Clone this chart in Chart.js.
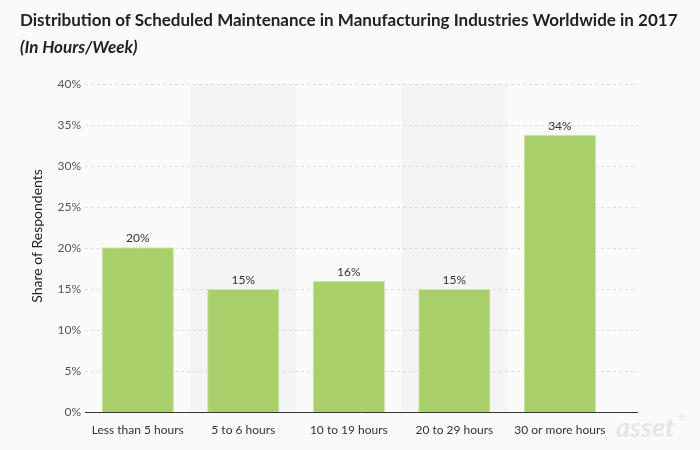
<!DOCTYPE html>
<html>
<head>
<meta charset="utf-8">
<script src="https://cdn.jsdelivr.net/npm/chart.js@4"></script>
<style>
  html, body { margin: 0; padding: 0; background: #fafafa; }
  #wrap { position: relative; width: 700px; height: 450px; background: #fafafa; font-family: Lato, sans-serif; }
  #title { position: absolute; left: 20px; top: 9px; font-size: 17px; font-weight: bold; color: #222; white-space: nowrap; }
  #subtitle { position: absolute; left: 20px; top: 36px; font-size: 17px; font-weight: bold; font-style: italic; color: #222; white-space: nowrap; }
  #logo { position: absolute; left: 616px; top: 410px; font-size: 27px; font-weight: bold; font-style: italic; color: #e6e6e6; }
  #logo sup { font-family: "DejaVu Sans", sans-serif; font-size: 12px; font-style: normal; font-weight: normal; position: relative; top: -6px; margin-left: 3px; }
  canvas { position: absolute; left: 0; top: 0; }
</style>
</head>
<body>
<div id="wrap">
  <canvas id="c" width="700" height="450"></canvas>
  <div id="title">Distribution of Scheduled Maintenance in Manufacturing Industries Worldwide in 2017</div>
  <div id="subtitle">(In Hours/Week)</div>
  <div id="logo">asset<sup>∞</sup></div>
</div>
<script>
const categories = ["Less than 5 hours", "5 to 6 hours", "10 to 19 hours", "20 to 29 hours", "30 or more hours"];
const shareValues = [20.1, 15, 16, 15, 33.8];
const yTicks = [0, 5, 10, 15, 20, 25, 30, 35, 40];
const yAxisTitle = "Share of Respondents";

const bandPlugin = {
  id: 'bands',
  beforeDatasetsDraw(chart) {
    const { ctx, chartArea, scales } = chart;
    ctx.save();
    ctx.fillStyle = '#f4f4f4';
    categories.forEach((_, i) => {
      if (i % 2 === 1) {
        const l = scales.x.getPixelForValue(i - 0.5);
        const r = scales.x.getPixelForValue(i + 0.5);
        ctx.fillRect(l, chartArea.top, r - l, chartArea.bottom - chartArea.top);
      }
    });
    ctx.strokeStyle = '#dcdcdc';
    ctx.lineWidth = 1;
    ctx.setLineDash([3, 3]);
    yTicks.forEach(v => {
      if (v === 0) return;
      const y = Math.round(scales.y.getPixelForValue(v)) + 0.5;
      ctx.beginPath();
      ctx.moveTo(chartArea.left, y);
      ctx.lineTo(chartArea.right, y);
      ctx.stroke();
    });
    ctx.setLineDash([]);
    ctx.strokeStyle = '#333';
    const y0 = Math.round(scales.y.getPixelForValue(0)) + 0.5;
    ctx.beginPath();
    ctx.moveTo(chartArea.left, y0);
    ctx.lineTo(chartArea.right, y0);
    ctx.stroke();
    ctx.save();
    ctx.translate(scales.y.left + 37, (chartArea.top + chartArea.bottom) / 2 - 12);
    ctx.rotate(-Math.PI / 2);
    ctx.font = '14px Lato';
    ctx.fillStyle = '#222';
    ctx.textAlign = 'center';
    ctx.textBaseline = 'middle';
    ctx.fillText(yAxisTitle, 0, 0);
    ctx.restore();
    ctx.restore();
  },
  afterDatasetsDraw(chart) {
    const { ctx } = chart;
    const meta = chart.getDatasetMeta(0);
    ctx.save();
    ctx.font = '12px Lato';
    ctx.fillStyle = '#333';
    ctx.textAlign = 'center';
    ctx.textBaseline = 'bottom';
    meta.data.forEach((bar, i) => {
      ctx.fillText(Math.round(shareValues[i]) + '%', bar.x, bar.y - 3);
    });
    ctx.restore();
  }
};

new Chart(document.getElementById('c'), {
  type: 'bar',
  data: {
    datasets: [{
      data: shareValues.map((v, i) => ({ x: i, y: v })),
      backgroundColor: '#a9cf6b',
      borderColor: '#cfe4ad',
      borderWidth: { left: 1, right: 1, top: 1, bottom: 0 },
      barPercentage: 0.685,
      categoryPercentage: 1
    }]
  },
  options: {
    responsive: false,
    animation: false,
    devicePixelRatio: 1,
    layout: { padding: { top: 84, right: 62, bottom: 0, left: 0 } },
    plugins: { legend: { display: false }, tooltip: { enabled: false } },
    scales: {
      x: {
        type: 'linear',
        bounds: 'data',
        offset: false,
        min: -0.5,
        max: 4.74,
        afterBuildTicks: s => { s.ticks = categories.map((_, i) => ({ value: i })); },
        afterFit: s => { s.height = 38; },
        grid: { display: false, drawTicks: false, offset: false },
        border: { display: false },
        ticks: {
          autoSkip: false,
          maxRotation: 0,
          padding: 11,
          color: '#333',
          font: { family: 'Lato', size: 12 },
          callback: v => categories[v] ?? ''
        }
      },
      y: {
        min: 0,
        max: 40,
        afterBuildTicks: s => { s.ticks = yTicks.map(v => ({ value: v })); },
        afterFit: s => { s.width = 85; },
        grid: { display: false, drawTicks: false },
        border: { display: false },
        ticks: {
          padding: 4,
          color: '#555',
          font: { family: 'Lato', size: 12 },
          callback: v => v + '%'
        },
        title: { display: false }
      }
    }
  },
  plugins: [bandPlugin]
});
</script>
</body>
</html>
